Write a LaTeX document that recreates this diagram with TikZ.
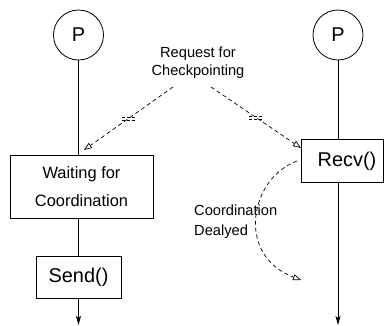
\documentclass[tikz,border=0pt]{standalone}
\usepackage{fontspec}
\setmainfont{Liberation Sans}
\usetikzlibrary{arrows.meta,calc}
\begin{document}
\begin{tikzpicture}[x=1bp,y=-1bp,
  proc/.style={draw,circle,minimum size=50bp,inner sep=0pt,line width=0.8bp,
    font=\fontsize{20}{20}\selectfont},
  box/.style={draw,rectangle,inner sep=0pt,line width=0.8bp},
  boxtext/.style={font=\fontsize{20}{24}\selectfont,inner sep=0pt},
  lbl/.style={font=\fontsize{14.7}{18}\selectfont,inner sep=0pt},
  life/.style={line width=0.8bp},
  flow/.style={life,-{Stealth[length=9bp,width=5bp,inset=2bp]}},
  msg/.style={line width=0.7bp,dash pattern=on 4bp off 3bp,
    -{Triangle[open,length=8bp,width=6bp]}},
  brk/.style={line width=0.7bp,dash pattern=on 3bp off 2bp},
]
\useasboundingbox (0,0) rectangle (384,326);

% processes
\node[proc] (pL) at (78.5,35) {P};
\node[proc] (pR) at (338,35) {P};

% left process
\node[box,minimum width=143bp,minimum height=63bp,align=center,
  font=\fontsize{16.5}{28}\selectfont] (wait) at (81.5,186.5)
  {Waiting for\\Coordination};
\node[box,boxtext,minimum width=85bp,minimum height=42bp] (send) at (78.5,277) {Send()};
\coordinate (endL) at (78.5,325);

% right process
\node[box,minimum width=82.5bp,minimum height=43bp] (recv) at (342.25,160.5) {};
\node[boxtext] (recvtxt) at (347,161) {Recv()};
\coordinate (endR) at (338,325);

% life lines
\draw[life] (pL.south) -- (pL.south |- wait.north);
\draw[life] (send.north |- wait.south) -- (send.north);
\draw[flow] (send.south) -- (endL);
\draw[life] (pR.south) -- (pR.south |- recv.north);
\draw[flow] (pR.south |- recv.south) -- (endR);

% checkpoint request
\node[lbl,align=center] (req) at (198,63) {Request for\\Checkpointing};
\coordinate (reqL) at (173,87);
\coordinate (reqR) at (211,87);
\coordinate (tipL) at (84,150);
\coordinate (tipR) at (301,148);
\draw[msg] (reqL) -- (tipL);
\draw[msg] (reqR) -- (tipR);
% break marks on the request lines
\draw[brk] ($(reqL)!0.5!(tipL)+(-7,-1.5)$) -- ++(14,0);
\draw[brk] ($(reqL)!0.5!(tipL)+(-7,1.5)$) -- ++(14,0);
\draw[brk] ($(reqR)!0.5!(tipR)+(-7,-1.5)$) -- ++(14,0);
\draw[brk] ($(reqR)!0.5!(tipR)+(-7,1.5)$) -- ++(14,0);

% delayed coordination
\coordinate (delS) at (297,161);
\coordinate (delE) at (301,280);
\draw[msg] (delS) .. controls (250,178) and (235,255) .. (delE);
\node[lbl,align=left,anchor=west] (del) at (194,222) {Coordination\\[2bp]Dealyed};
\end{tikzpicture}
\end{document}
